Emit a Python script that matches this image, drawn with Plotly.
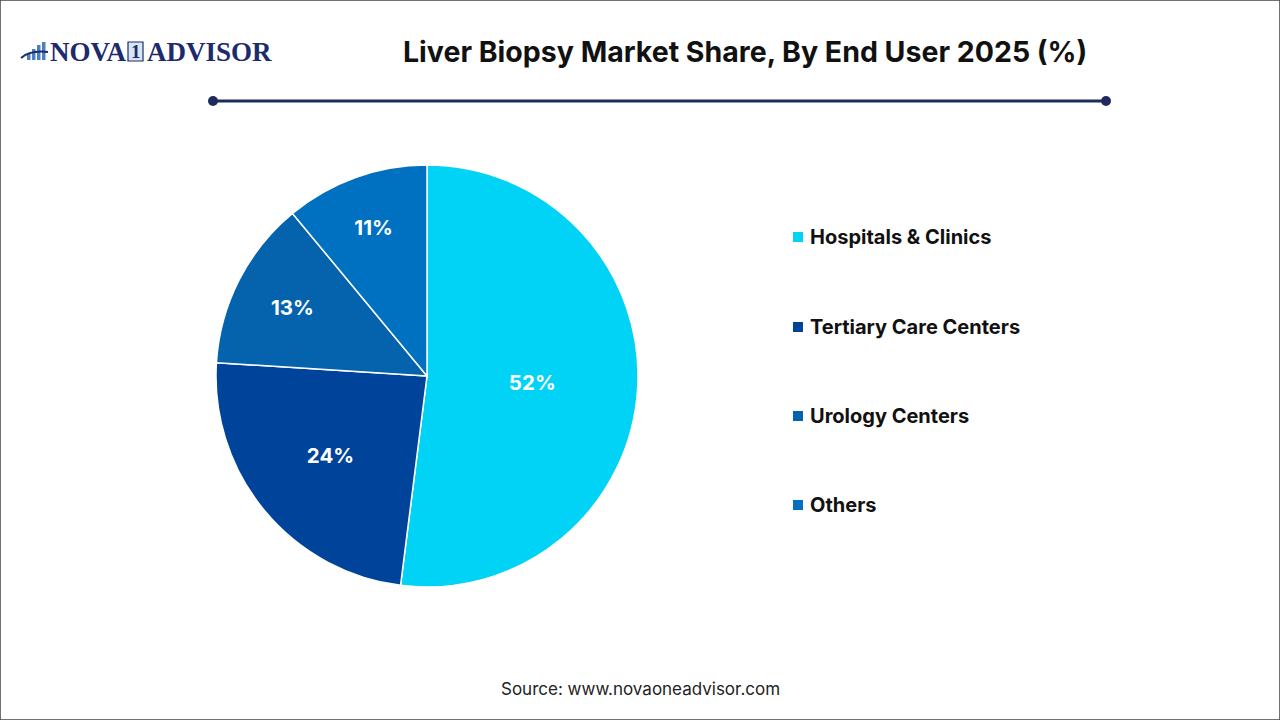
import plotly.graph_objects as go

categories = ["Hospitals & Clinics", "Tertiary Care Centers", "Urology Centers", "Others"]
shares = [52, 24, 13, 11]
colors = ["#00D3F5", "#00439A", "#0563AD", "#0070C0"]

title_text = "Liver Biopsy Market Share, By End User 2025 (%)"
source_text = "Source: www.novaoneadvisor.com"

W, H = 1280, 720
SANS = "Inter, Liberation Sans, Arial, sans-serif"
SERIF = "Liberation Serif, Times New Roman, serif"

def px(x):
    return x / W

def py(y):
    return 1 - y / H

fig = go.Figure()
fig.add_trace(go.Pie(
    labels=categories,
    values=shares,
    sort=False,
    direction="clockwise",
    rotation=0,
    marker=dict(colors=colors, line=dict(color="white", width=1.5)),
    texttemplate="<b>%{value}%</b>",
    textposition="inside",
    insidetextorientation="horizontal",
    insidetextfont=dict(color="white", size=20.5, family=SANS),
    hoverinfo="label+percent",
    showlegend=False,
    domain=dict(x=[px(427 - 211), px(427 + 211)], y=[py(376 + 211), py(376 - 211)]),
))

shapes = []
annotations = []

# figure border
shapes.append(dict(type="rect", xref="paper", yref="paper", x0=0, y0=0, x1=1, y1=1,
                   line=dict(color="#444444", width=1.5), fillcolor="rgba(0,0,0,0)"))

# title
annotations.append(dict(text="<b>" + title_text + "</b>", x=px(745), y=py(52), xref="paper", yref="paper",
                        showarrow=False, xanchor="center", yanchor="middle",
                        font=dict(size=28.5, color="#111111", family=SANS)))

# title underline with end dots
shapes.append(dict(type="line", xref="paper", yref="paper", x0=px(213), x1=px(1106), y0=py(101), y1=py(101),
                   line=dict(color="#1F2B5C", width=3)))
for xd in (213, 1106):
    shapes.append(dict(type="circle", xref="paper", yref="paper",
                       x0=px(xd - 5), x1=px(xd + 5), y0=py(101 + 5), y1=py(101 - 5),
                       fillcolor="#1F2B5C", line=dict(color="#1F2B5C", width=0)))

# legend (manual, to match spacing)
legend_y = [237, 327, 416, 505]
for cat, col, yy in zip(categories, colors, legend_y):
    shapes.append(dict(type="rect", xref="paper", yref="paper",
                       x0=px(793), x1=px(803), y0=py(yy + 5), y1=py(yy - 5),
                       fillcolor=col, line=dict(width=0)))
    annotations.append(dict(text="<b>" + cat + "</b>", x=px(808), y=py(yy), xref="paper", yref="paper",
                            showarrow=False, xanchor="left", yanchor="middle",
                            font=dict(size=20, color="#111111", family=SANS)))

# source
annotations.append(dict(text=source_text, x=px(640), y=py(689), xref="paper", yref="paper",
                        showarrow=False, xanchor="center", yanchor="middle",
                        font=dict(size=17, color="#222222", family=SANS)))

# logo
logo_color = "#1D2A6B"
annotations.append(dict(text="<b>NOVA</b>", x=px(48), y=py(52), xref="paper", yref="paper",
                        showarrow=False, xanchor="left", yanchor="middle",
                        font=dict(size=27, color=logo_color, family=SERIF)))
shapes.append(dict(type="rect", xref="paper", yref="paper", x0=px(128), x1=px(143), y0=py(61), y1=py(42),
                   fillcolor="#D6E6F5", line=dict(color=logo_color, width=1.2)))
annotations.append(dict(text="<b>1</b>", x=px(135.5), y=py(52), xref="paper", yref="paper",
                        showarrow=False, xanchor="center", yanchor="middle",
                        font=dict(size=19, color=logo_color, family=SERIF)))
annotations.append(dict(text="<b>ADVISOR</b>", x=px(145), y=py(52), xref="paper", yref="paper",
                        showarrow=False, xanchor="left", yanchor="middle",
                        font=dict(size=27, color=logo_color, family=SERIF)))
# logo icon bars
for bx, top in ((27, 53), (32, 49), (37, 45), (42, 42)):
    shapes.append(dict(type="rect", xref="paper", yref="paper", x0=px(bx), x1=px(bx + 3.5),
                       y0=py(60), y1=py(top), fillcolor="#4A7FC1", line=dict(width=0)))
shapes.append(dict(type="path", xref="paper", yref="paper",
                   path=f"M {px(21)} {py(58)} Q {px(30)} {py(50)} {px(48)} {py(52)}",
                   line=dict(color=logo_color, width=2)))

fig.update_layout(
    width=W, height=H,
    margin=dict(l=0, r=0, t=0, b=0),
    paper_bgcolor="white",
    plot_bgcolor="white",
    shapes=shapes,
    annotations=annotations,
    showlegend=False,
)

fig.write_html("out.html")
